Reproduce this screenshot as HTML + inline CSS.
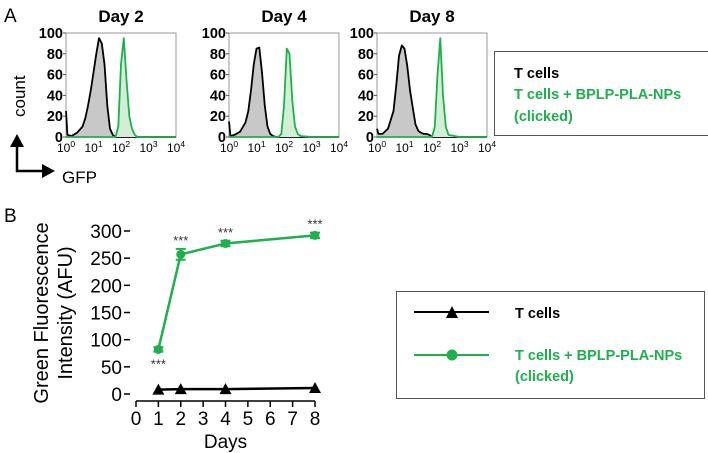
<!DOCTYPE html>
<html><head><meta charset="utf-8"><style>
body{margin:0;background:#fff;}
svg{display:block;font-family:"Liberation Sans",sans-serif;}
</style></head><body>
<svg id="fig" width="708" height="453" viewBox="0 0 708 453" xmlns="http://www.w3.org/2000/svg">
<text x="4" y="22" font-size="19">A</text>
<text x="4" y="222" font-size="19">B</text>
<text transform="translate(25,117) rotate(-90)" font-size="17">count</text>
<g>
<line x1="17" y1="144" x2="17" y2="172" stroke="#000" stroke-width="2.5"/>
<polygon points="10,147 24,147 17,134" fill="#000"/>
<line x1="16" y1="171" x2="44" y2="171" stroke="#000" stroke-width="2.5"/>
<polygon points="42,164 42,178 55,171" fill="#000"/>
</g>
<text x="62" y="183" font-size="17">GFP</text>
<g id="hists"></g>
<g>
<rect x="494.5" y="51.5" width="220" height="84" fill="none" stroke="#555" stroke-width="1"/>
<text x="514" y="78" font-size="14.5" font-weight="bold" fill="#000">T cells</text>
<text x="514" y="99" font-size="14.5" font-weight="bold" fill="#1db04d">T cells + BPLP-PLA-NPs</text>
<text x="514" y="121" font-size="14.5" font-weight="bold" fill="#1db04d">(clicked)</text>
</g>
<g id="lineChart"></g>
<g>
<rect x="396.5" y="291.5" width="308" height="107" fill="none" stroke="#555" stroke-width="1"/>
<line x1="414" y1="312" x2="489" y2="312" stroke="#000" stroke-width="2"/>
<polygon points="446,318 458,318 452,306" fill="#000"/>
<text x="515" y="318" font-size="14.5" font-weight="bold">T cells</text>
<line x1="414" y1="355" x2="489" y2="355" stroke="#1db04d" stroke-width="2"/>
<circle cx="452" cy="355" r="5.5" fill="#1db04d"/>
<text x="515" y="360" font-size="14.5" font-weight="bold" fill="#1db04d">T cells + BPLP-PLA-NPs</text>
<text x="515" y="381" font-size="14.5" font-weight="bold" fill="#1db04d">(clicked)</text>
</g>
</svg>
<script>
const NS="http://www.w3.org/2000/svg";
function mk(t,a,p){const e=document.createElementNS(NS,t);for(const k in a)e.setAttribute(k,a[k]);p.appendChild(e);return e;}
// Histogram data
const histTitles=["Day 2","Day 4","Day 8"];
const logX=[0,0.05,0.2,0.4,0.6,0.7,0.8,0.9,1.0,1.1,1.2,1.3,1.4,1.5,1.6,1.7,1.8,1.9,2.0,2.1,2.2,2.3,2.4,2.5,2.6,3,4];
const black1=[25,2,1,4,10,18,30,45,62,80,95,90,70,30,8,2,0,0,0,0,0,0,0,0,0,0,0];
const green1=[0,0,0,0,0,0,0,0,0,0,0,0,0,0,0,0,0,10,70,95,55,20,8,2,0,0,0];
const black2=[15,1,2,5,14,25,45,70,85,86,62,30,10,3,1,0,0,0,0,0,0,0,0,0,0,0,0];
const green2=[0,0,0,0,0,0,0,0,0,0,0,0,0,0,0,0,0,3,30,85,80,35,10,3,1,0,0];
const black3=[8,3,3,8,25,50,78,88,85,68,45,28,12,6,4,3,3,2,0,0,0,0,0,0,0,0,0];
const green3=[0,0,0,0,0,0,0,0,0,0,0,0,0,0,0,0,0,0,0,10,60,95,40,10,2,0,0];
const yTicksA=[0,20,40,60,80,100];
const xTicksA=[0,1,2,3,4];
const blacks=[black1,black2,black3], greens=[green1,green2,green3];
const panelLeft=[66,229,377], pw=110, pTop=33, pBot=137;
const hg=document.getElementById('hists');
histTitles.forEach((t,i)=>{
  const g=mk('g',{},hg);
  
  
  const L=panelLeft[i];
  const sx=v=>L+v/4*pw, sy=v=>pBot-v/100*(pBot-pTop);
  const title=mk('text',{x:L+pw/2,y:22,'font-size':17,'font-weight':'bold','text-anchor':'middle'},g);title.textContent=t;
  
  
  mk('rect',{x:L,y:pTop,width:pw,height:pBot-pTop,fill:'none',stroke:'#999','stroke-width':1},g);
  yTicksA.forEach(v=>{const y=sy(v);mk('line',{x1:L-3,y1:y,x2:L,y2:y,stroke:'#555'},g);
    const tx=mk('text',{x:L-3,y:y+5,'font-size':14.5,'font-weight':'bold','text-anchor':'end'},g);tx.textContent=v;
    
    });
  xTicksA.forEach(v=>{const x=sx(v);
    const tx=mk('text',{x:x,y:152,'font-size':12,'text-anchor':'middle'},g);
    tx.innerHTML='10<tspan dy="-5" font-size="8.5">'+v+'</tspan>';
    
    });
  [[blacks[i],'#c8c8c8','#000'],[greens[i],'#d2eed5','#1db04d']].forEach(([arr,fill,stroke])=>{
    let d='M'+sx(logX[0])+','+sy(arr[0]);
    for(let k=1;k<logX.length;k++)d+=' L'+sx(logX[k]).toFixed(1)+','+sy(arr[k]).toFixed(1);
    const area=mk('path',{d:d+' L'+sx(4)+','+sy(0)+' L'+sx(0)+','+sy(0)+'Z',fill:fill,stroke:'none'},g);
    
    
    const ln=mk('path',{d:d,fill:'none',stroke:stroke,'stroke-width':1.8,'stroke-linejoin':'round'},g);
    
    
  });
});
// Line chart data
const days=[1,2,4,8];
const greenVals=[82,257,277,292];
const greenErr=[4,10,5,5];
const blackVals=[8,9,9,11];
const yTicksB=[0,50,100,150,200,250,300];
const xTicksB=[0,1,2,3,4,5,6,7,8];
const sigAbove=[false,true,true,true];
const lc=document.getElementById('lineChart');
const X=v=>136+v/8*179, Y=v=>394-v/300*163;
const axG=mk('g',{},lc);


yTicksB.forEach(v=>{mk('line',{x1:124,y1:Y(v),x2:130,y2:Y(v),stroke:'#000','stroke-width':1.5},axG);
  const t=mk('text',{x:122,y:Y(v)+7,'font-size':19,'text-anchor':'end'},axG);t.textContent=v;
  
  });
mk('line',{x1:X(0),y1:401,x2:X(8),y2:401,stroke:'#000','stroke-width':1.5},axG);
xTicksB.forEach(v=>{mk('line',{x1:X(v),y1:401,x2:X(v),y2:407,stroke:'#000','stroke-width':1.5},axG);
  const t=mk('text',{x:X(v),y:425,'font-size':19,'text-anchor':'middle'},axG);t.textContent=v;
  
  });
const xl=mk('text',{x:X(4),y:448,'font-size':19,'text-anchor':'middle'},axG);xl.textContent='Days';


const yt=mk('text',{transform:'translate(60,313) rotate(-90)','font-size':20,'text-anchor':'middle'},axG);
yt.innerHTML='<tspan x="0" dy="-12">Green Fluorescence</tspan><tspan x="0" dy="24">Intensity (AFU)</tspan>';


// black series
const bl=mk('polyline',{points:days.map((d,i)=>X(d)+','+Y(blackVals[i])).join(' '),fill:'none',stroke:'#000','stroke-width':2.5},lc);


days.forEach((d,i)=>{const x=X(d),y=Y(blackVals[i]);
  const p=mk('polygon',{points:(x-6)+','+(y+5)+' '+(x+6)+','+(y+5)+' '+x+','+(y-6),fill:'#000'},lc);
  
  });
// green series
const gl=mk('polyline',{points:days.map((d,i)=>X(d)+','+Y(greenVals[i])).join(' '),fill:'none',stroke:'#1db04d','stroke-width':2.5},lc);


days.forEach((d,i)=>{const x=X(d),y=Y(greenVals[i]),e1=Y(greenVals[i]+greenErr[i]),e2=Y(greenVals[i]-greenErr[i]);
  const eb=mk('path',{d:`M${x},${e1}V${e2}M${x-5},${e1}H${x+5}M${x-5},${e2}H${x+5}`,stroke:'#1db04d','stroke-width':2,fill:'none'},lc);
  
  
  const c=mk('circle',{cx:x,cy:y,r:4.5,fill:'#1db04d'},lc);
  
  
  const s=mk('text',{x:x,y:sigAbove[i]?e1-4:Y(greenVals[i])+19,'font-size':13,'text-anchor':'middle',fill:'#333'},lc);s.textContent='***';
  
  });
</script>
</body></html>
